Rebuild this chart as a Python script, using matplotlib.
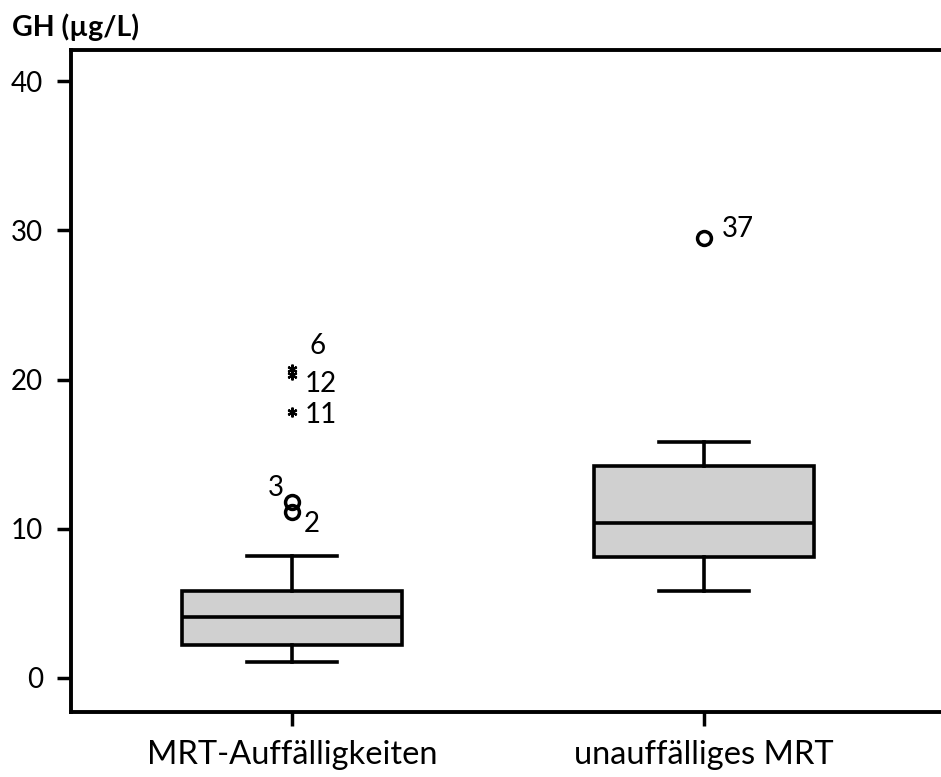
import matplotlib
matplotlib.use("Agg")
import matplotlib.pyplot as plt

categories = ["MRT-Auffälligkeiten", "unauffälliges MRT"]
whislo = [1.1, 5.8]
q1 = [2.2, 8.1]
med = [4.1, 10.4]
q3 = [5.8, 14.2]
whishi = [8.2, 15.8]

# mild outliers (circles): group index, value, case label
mild_group = [0, 0, 1]
mild_value = [11.8, 11.1, 29.5]
mild_label = ["3", "2", "37"]

# extreme outliers (stars)
ext_group = [0, 0, 0]
ext_value = [20.7, 20.3, 17.8]
ext_label = ["6", "12", "11"]

yticks = [0, 10, 20, 30, 40]

plt.rcParams['font.family'] = ['Lato', 'DejaVu Sans']

fig = plt.figure(figsize=(9.41, 7.77), dpi=100)
ax_w = 1 - 71/941 + 0.01
ax = fig.add_axes([71/941, 1 - 712/777, ax_w, (712 - 50)/777])

stats = []
for i, c in enumerate(categories):
    stats.append(dict(label=c, whislo=whislo[i], q1=q1[i], med=med[i],
                      q3=q3[i], whishi=whishi[i], fliers=[]))

lw = 2.6
ax.bxp(stats, positions=[0, 1], widths=0.534, patch_artist=True,
       showfliers=False, capwidths=0.22,
       boxprops=dict(facecolor='#d0d0d0', edgecolor='black', linewidth=lw),
       medianprops=dict(color='black', linewidth=lw),
       whiskerprops=dict(color='black', linewidth=lw),
       capprops=dict(color='black', linewidth=lw))

mild_off = {"3": (-16, 14), "2": (20, -12), "37": (18, 9)}
for g, v, l in zip(mild_group, mild_value, mild_label):
    ax.plot(g, v, 'o', mfc='none', mec='black', ms=10, mew=2.5)
    ox, oy = mild_off[l]
    ha = 'center' if l in ("3", "2") else 'left'
    ax.annotate(l, (g, v), xytext=(ox, oy), textcoords='offset pixels',
                ha=ha, va='center', fontsize=20)

ext_off = {"6": (26, 23), "12": (13, -9), "11": (13, -3)}
for g, v, l in zip(ext_group, ext_value, ext_label):
    ax.plot(g, v, marker=(6, 2, 0), color='black', ms=7, mew=1.6)
    ox, oy = ext_off[l]
    ha = 'center' if l == "6" else 'left'
    ax.annotate(l, (g, v), xytext=(ox, oy), textcoords='offset pixels',
                ha=ha, va='center', fontsize=20)

ax.set_xlim(-0.536, -0.536 + ax_w * 941 / 412)
ax.set_ylim(-2.28, 42.1)
ax.set_yticks(yticks)
ax.set_xticks([0, 1])
ax.set_xticklabels(categories)
ax.tick_params(axis='y', direction='out', width=2.5, length=10, labelsize=20, pad=10)
ax.tick_params(axis='x', direction='out', width=2.5, length=10, labelsize=23.5, pad=10)
for s in ['left', 'bottom', 'top']:
    ax.spines[s].set_linewidth(2.8)
ax.spines['right'].set_visible(False)

fig.text(12/941, 1 - 27/777, "GH (µg/L)", fontsize=20.5, fontweight='bold',
         ha='left', va='center')

fig.savefig("out.png", dpi=100)
